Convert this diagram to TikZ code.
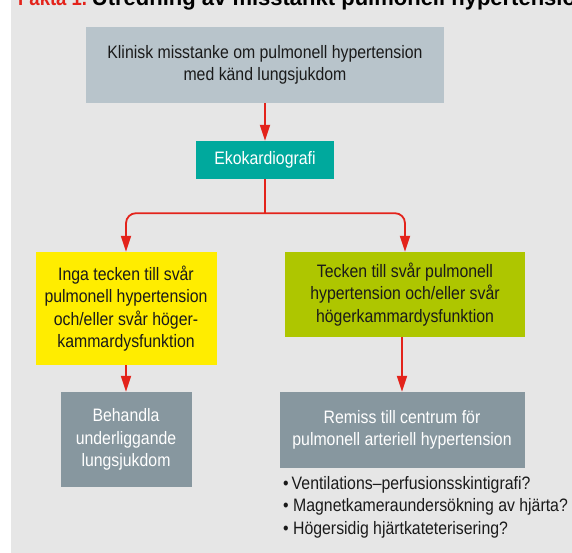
\documentclass[tikz,border=0pt]{standalone}
\usepackage{fontspec}
\setmainfont{Liberation Sans}[FakeStretch=0.88]
\newfontfamily\titlefont{Liberation Sans}
\usetikzlibrary{arrows.meta}

\definecolor{panelgray}{HTML}{E6E6E6}
\definecolor{topgray}{HTML}{B8C4CB}
\definecolor{ekoteal}{HTML}{00A99D}
\definecolor{ingayellow}{HTML}{FFED00}
\definecolor{teckengreen}{HTML}{AEC600}
\definecolor{stepgray}{HTML}{87979F}
\definecolor{linkred}{HTML}{E3231B}
\definecolor{inkblack}{HTML}{1A1A1A}

\newcommand{\boxfont}{\fontsize{18}{22.5}\selectfont}

\tikzset{
  box/.style={inner sep=0pt, align=center, font=\boxfont, text=inkblack},
  wire/.style={draw=linkred, line width=1.8pt},
  link/.style={wire, -{Triangle[length=16pt,width=10pt]}},
}

\begin{document}
\begin{tikzpicture}[x=1pt,y=-1pt]
    \useasboundingbox (0,0) rectangle (572,553);
    \fill[panelgray] (11,0) rectangle (572,553);
    \node[anchor=base west, inner sep=0pt, font=\bfseries] (title) at (18,5.5)
        {\textcolor{linkred}{\fontsize{21}{24}\selectfont Fakta 1.}\,
         \titlefont\fontsize{22}{24}\selectfont Utredning av misstänkt pulmonell hypertension};

    \node[box, fill=topgray, minimum width=358pt, minimum height=76pt] (klinisk) at (265,65)
        {Klinisk misstanke om pulmonell hypertension\\med känd lungsjukdom};
    \node[box, fill=ekoteal, text=white, minimum width=138pt, minimum height=38pt] (eko) at (265,160)
        {Ekokardiografi};
    \node[box, fill=ingayellow, minimum width=181pt, minimum height=113pt] (inga) at (126,308.5)
        {Inga tecken till svår\\pulmonell hypertension\\och/eller svår höger-\\kammardysfunktion};
    \node[box, fill=teckengreen, minimum width=240pt, minimum height=85pt] (tecken) at (405,294.5)
        {Tecken till svår pulmonell\\hypertension och/eller svår\\högerkammardysfunktion};
    \node[box, fill=stepgray, text=white, minimum width=131pt, minimum height=95pt] (behandla) at (126,439.5)
        {Behandla\\underliggande\\lungsjukdom};
    \node[box, fill=stepgray, text=white, minimum width=245pt, minimum height=76pt] (remiss) at (402,430)
        {Remiss till centrum för\\pulmonell arteriell hypertension};
    \node[box, align=left, anchor=north west] (checks) at (283,476)
        {\textbullet\,Ventilations–perfusionsskintigrafi?\\
         \textbullet\ Magnetkameraundersökning av hjärta?\\
         \textbullet\ Högersidig hjärtkateterisering?};

    \draw[link] (klinisk) -- (eko);
    \draw[wire] (eko.south) -- ++(0,34) coordinate (split);
    \draw[link, rounded corners=10pt] (split) -| (inga.north);
    \draw[link, rounded corners=10pt] (split) -| (tecken.north);
    \draw[link] (inga) -- (behandla);
    \draw[link] (remiss.north |- tecken.south) -- (remiss.north);
\end{tikzpicture}
\end{document}
